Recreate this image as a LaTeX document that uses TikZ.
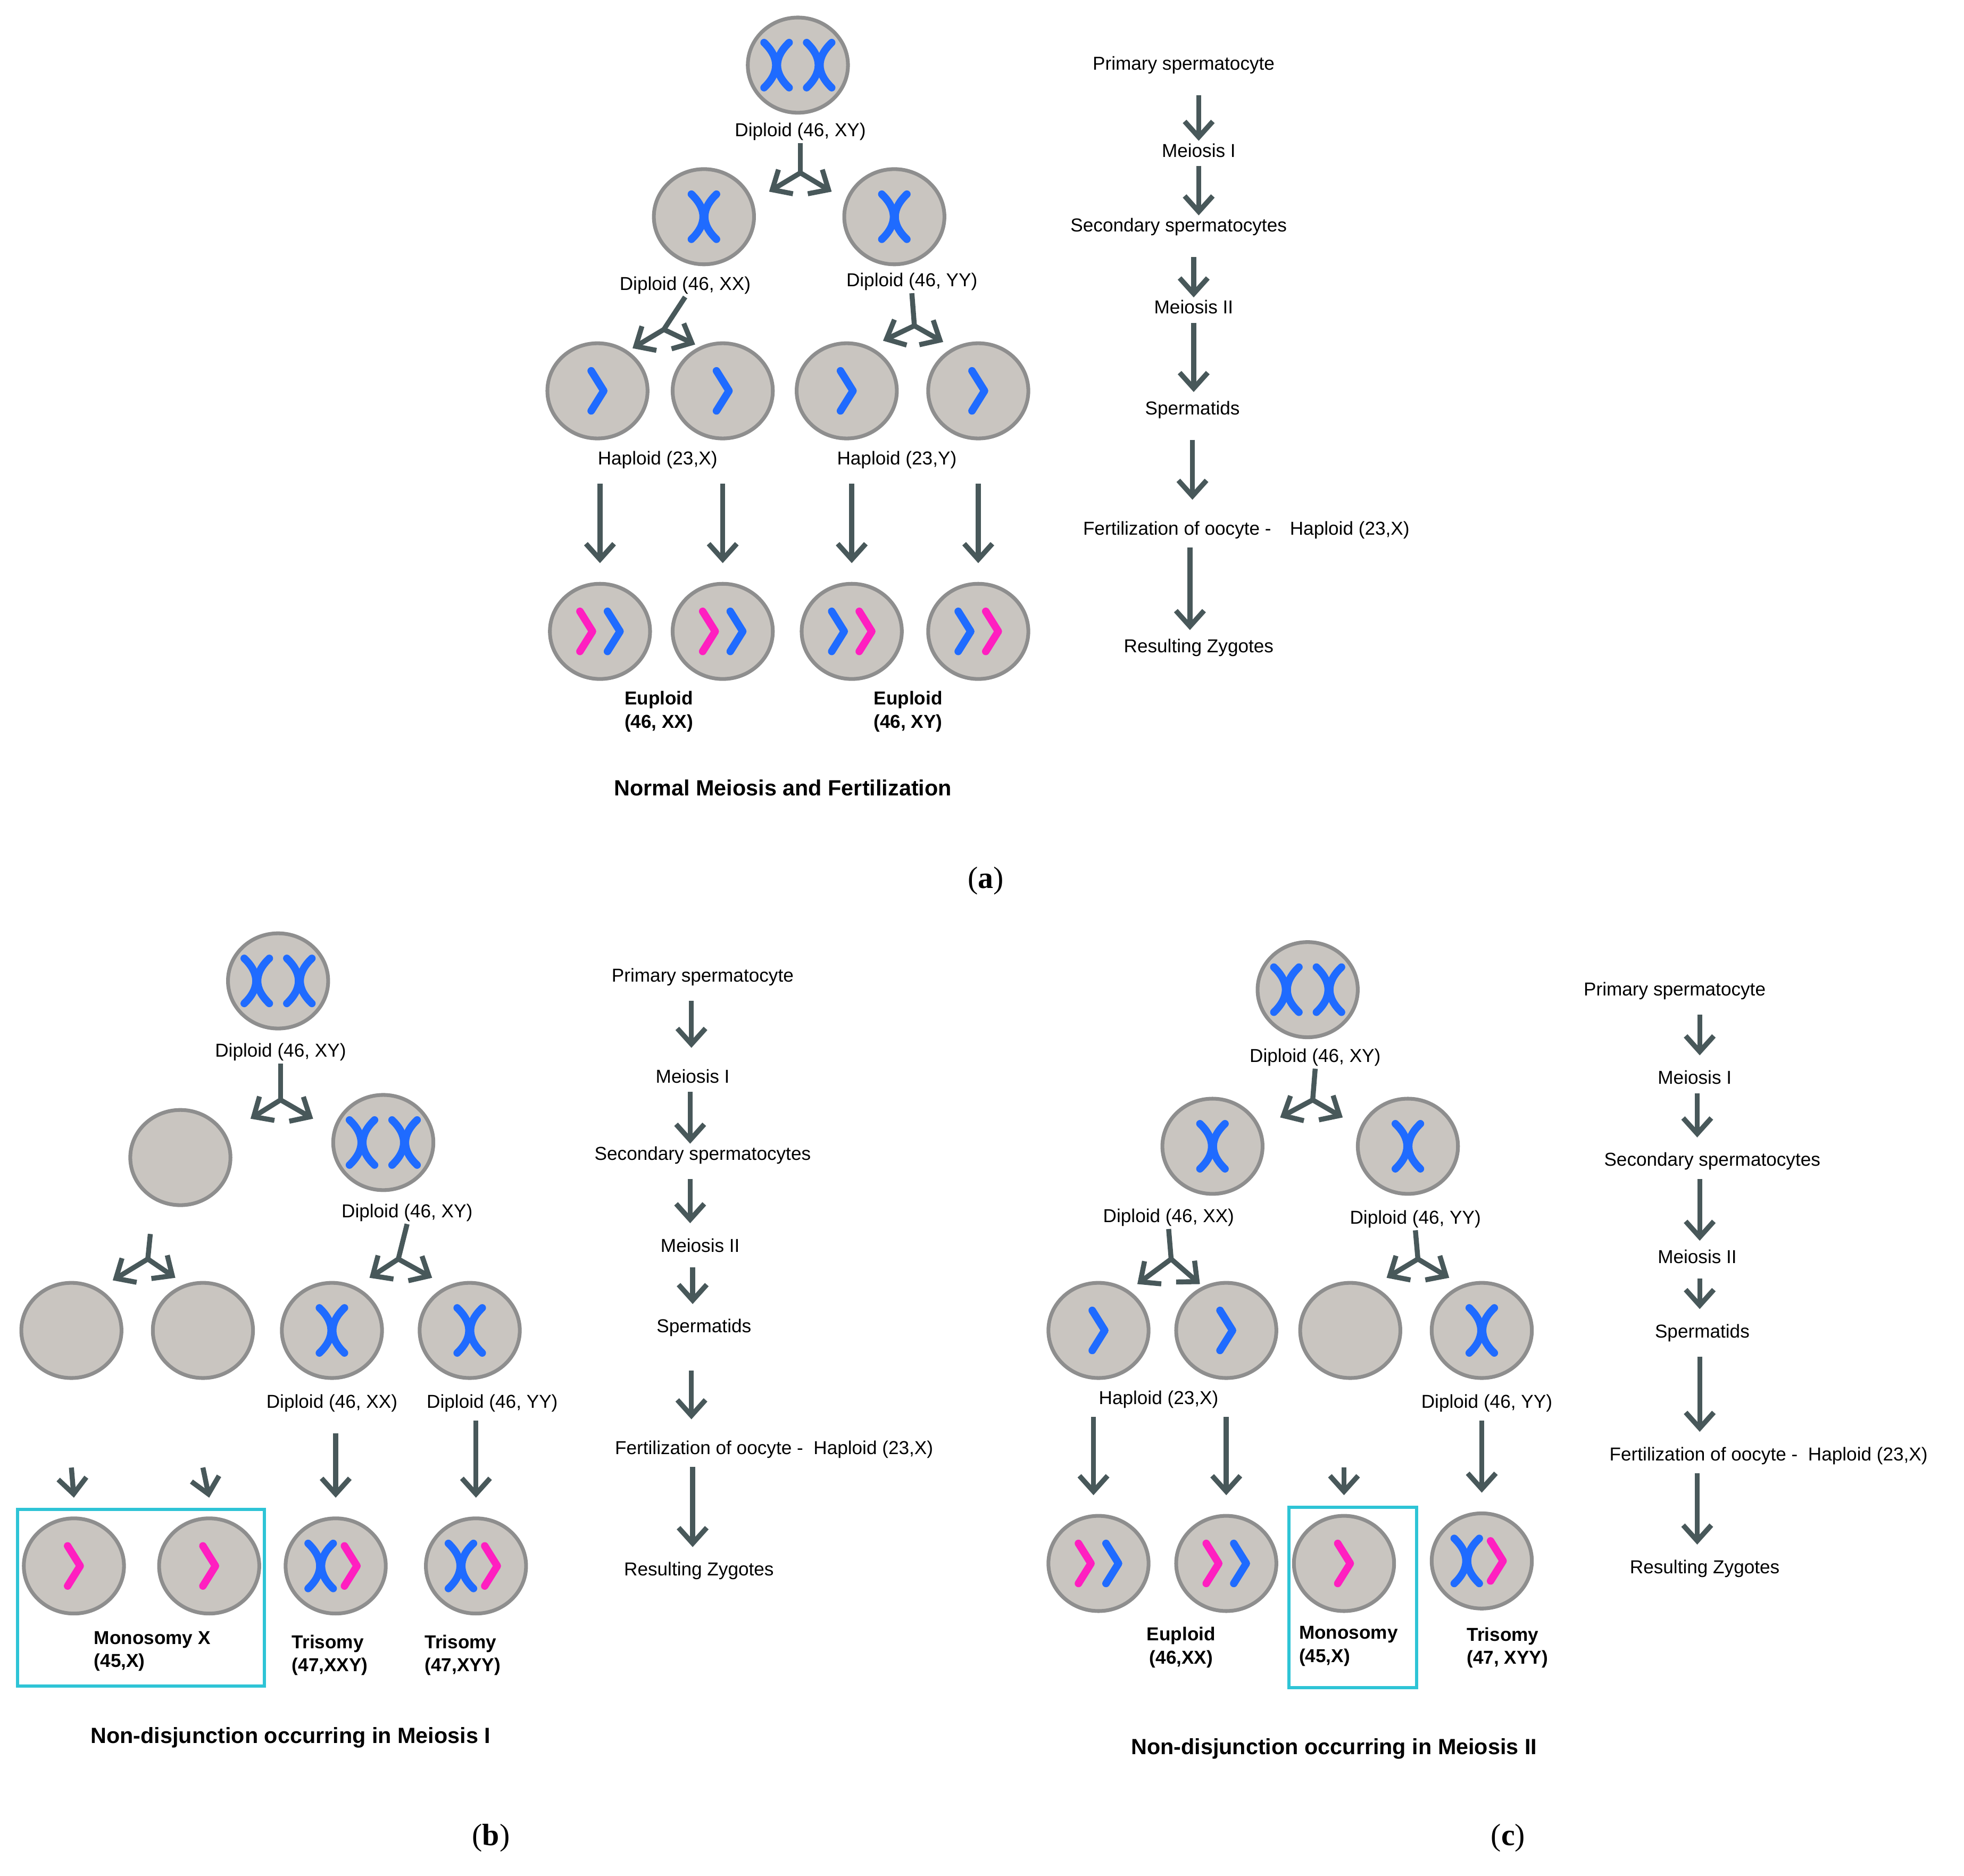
\documentclass[tikz,border=0pt]{standalone}
\usepackage{fontspec}
\setmainfont{Liberation Sans}
\newfontfamily\capfont{Liberation Serif}
\usetikzlibrary{arrows.meta,shapes.geometric,positioning,calc}
\definecolor{cellfill}{HTML}{C9C5C0}
\definecolor{celledge}{HTML}{8E8E8E}
\definecolor{arrgray}{HTML}{48585A}
\definecolor{chrblue}{HTML}{1F6BFF}
\definecolor{chrpink}{HTML}{FF1FC0}
\definecolor{boxcyan}{HTML}{2EC4D6}
\tikzset{
	cell/.style={
		ellipse,
		fill=cellfill,
		draw=celledge, line width=0.06cm,
		minimum width=1.6cm,
		minimum height=1.52cm,
	},
	lbl/.style={font=\fontsize{8.5}{10}\selectfont, inner sep=1pt},
	res/.style={font=\fontsize{8.5}{10.5}\selectfont\bfseries, inner sep=1pt, align=left},
	title/.style={font=\fontsize{10}{12}\selectfont\bfseries},
	arr/.style={draw=arrgray, line width=0.08cm, -{Straight Barb[length=0.25cm,width=0.45cm,line width=0.08cm]}},
	stem/.style={draw=arrgray, line width=0.08cm},
	blu/.style={draw=chrblue, line width=0.12cm, line cap=round, line join=round},
	pnk/.style={draw=chrpink, line width=0.12cm, line cap=round, line join=round},
	xchr/.pic={
		\draw[pic actions] (-0.2cm,0.36cm) .. controls (0.05cm,0.12cm) and (0.05cm,-0.12cm) .. (-0.2cm,-0.36cm);
		\draw[pic actions] (0.2cm,0.36cm) .. controls (-0.05cm,0.12cm) and (-0.05cm,-0.12cm) .. (0.2cm,-0.36cm);
	},
	chev/.pic={
		\draw[pic actions] (-0.1cm,0.32cm) -- (0.1cm,0cm) -- (-0.1cm,-0.32cm);
	},
}

\begin{document}
\begin{tikzpicture}[x=0.02cm, y=-0.02cm]
\useasboundingbox (0,0) rectangle (1568,1497.5);

%%% (a) normal meiosis
\node (a1)	[cell] at (637,52) {};
\pic[blu] at ([xshift=-0.34cm]a1) {xchr};
\pic[blu] at ([xshift=0.34cm]a1) {xchr};
\node (la1)	[lbl] at (639,105) {Diploid (46, XY)};
\node (a21)	[cell] at (562,173) {};
\node (a22)	[cell] at (714,173) {};
\pic[blu] at (a21) {xchr};
\pic[blu] at (a22) {xchr};
\node (la21)	[lbl] at (547,228) {Diploid (46, XX)};
\node (la22)	[lbl] at (728,225) {Diploid (46, YY)};
\foreach \i/\x in {1/477,2/577,3/676,4/781}{
	\node (a3\i) [cell] at (\x,312) {};
	\pic[blu] at (a3\i) {chev};
}
\node (la31)	[lbl] at (525,367) {Haploid (23,X)};
\node (la32)	[lbl] at (716,367) {Haploid (23,Y)};
\foreach \i/\x in {1/479,2/577,3/680,4/781}{
	\node (a4\i) [cell] at (\x,504) {};
}
\pic[pnk] at ([xshift=-0.22cm]a41) {chev};
\pic[blu] at ([xshift=0.22cm]a41) {chev};
\pic[pnk] at ([xshift=-0.22cm]a42) {chev};
\pic[blu] at ([xshift=0.22cm]a42) {chev};
\pic[blu] at ([xshift=-0.22cm]a43) {chev};
\pic[pnk] at ([xshift=0.22cm]a43) {chev};
\pic[blu] at ([xshift=-0.22cm]a44) {chev};
\pic[pnk] at ([xshift=0.22cm]a44) {chev};
\node (ra1)	[res, align=center] at (526,568) {Euploid\\(46, XX)};
\node (ra2)	[res, align=center] at (725,568) {Euploid\\(46, XY)};
\node (ta)	[title] at (625,629) {Normal Meiosis and Fertilization};
\node (capa)	[font=\capfont\fontsize{14}{16}\selectfont] at (787,703) {(\textbf{a})};

% split arrows
\coordinate (sa1) at (639,138);
\draw[stem] (la1.south) -- (sa1);
\draw[arr] (sa1) -- ++(-25,15);
\draw[arr] (sa1) -- ++(25,15);
\coordinate (sa21) at (530,263);
\draw[stem] (la21.south) -- (sa21);
\draw[arr] (sa21) -- ++(-25,15);
\draw[arr] (sa21) -- ++(25,12);
\coordinate (sa22) at (730,260);
\draw[stem] (la22.south) -- (sa22);
\draw[arr] (sa22) -- ++(-25,12);
\draw[arr] (sa22) -- ++(23,13);
% down arrows
\foreach \i in {1,2}{
	\draw[arr] ([yshift=-0.2cm]a4\i.north |- la31.south) -- ([yshift=0.3cm]a4\i.north);
}
\foreach \i in {3,4}{
	\draw[arr] ([yshift=-0.2cm]a4\i.north |- la32.south) -- ([yshift=0.3cm]a4\i.north);
}

% stages
\node (fa1)	[lbl] at (945,52) {Primary spermatocyte};
\node (fa2)	[lbl] at (957,120) {Meiosis I};
\node (fa3)	[lbl] at (941,181) {Secondary spermatocytes};
\node (fa4)	[lbl] at (953,245) {Meiosis II};
\node (fa5)	[lbl] at (952,327) {Spermatids};
\node (fa6)	[lbl] at (995,423) {Fertilization of oocyte -\quad Haploid (23,X)};
\node (fa7)	[lbl] at (957,517) {Resulting Zygotes};
\draw[arr, shorten <=0.3cm] (fa1.south -| fa2) -- (fa2.north);
\draw[arr, shorten <=0.1cm] (fa2.south) -- (fa3.north -| fa2);
\draw[arr, shorten <=0.3cm] (fa3.south -| fa4) -- (fa4.north);
\draw[arr, shorten <=0.1cm, shorten >=0.1cm] (fa4.south) -- (fa5.north -| fa4);
\draw[arr, shorten <=0.3cm, shorten >=0.3cm] (fa5.south) -- (fa6.north -| fa5);
\draw[arr, shorten <=0.1cm, shorten >=0.1cm] (fa6.south -| 950,0) -- (fa7.north -| 950,0);

%%% (b) non-disjunction in meiosis I
\node (b1)	[cell] at (222,783) {};
\pic[blu] at ([xshift=-0.34cm]b1) {xchr};
\pic[blu] at ([xshift=0.34cm]b1) {xchr};
\node (lb1)	[lbl] at (224,840) {Diploid (46, XY)};
\node (b21)	[cell] at (144,924) {};
\node (b22)	[cell] at (306,912) {};
\pic[blu] at ([xshift=-0.34cm]b22) {xchr};
\pic[blu] at ([xshift=0.34cm]b22) {xchr};
\node (lb22)	[lbl] at (325,968) {Diploid (46, XY)};
\node (b31)	[cell] at (57,1062) {};
\node (b32)	[cell] at (162,1062) {};
\node (b33)	[cell] at (265,1062) {};
\node (b34)	[cell] at (375,1062) {};
\pic[blu] at (b33) {xchr};
\pic[blu] at (b34) {xchr};
\node (lb33)	[lbl] at (265,1120) {Diploid (46, XX)};
\node (lb34)	[lbl] at (393,1120) {Diploid (46, YY)};
\node (b41)	[cell] at (59,1250) {};
\node (b42)	[cell] at (167,1250) {};
\node (b43)	[cell] at (268,1250) {};
\node (b44)	[cell] at (380,1250) {};
\pic[pnk] at (b41) {chev};
\pic[pnk] at (b42) {chev};
\pic[blu] at ([xshift=-0.24cm]b43) {xchr};
\pic[pnk] at ([xshift=0.24cm]b43) {chev};
\pic[blu] at ([xshift=-0.24cm]b44) {xchr};
\pic[pnk] at ([xshift=0.24cm]b44) {chev};
\node (boxb)	[draw=boxcyan, line width=0.05cm, minimum width=3.94cm, minimum height=2.82cm] at (112.5,1275.5) {};
\node (rb1)	[res, anchor=north west] at (73,1300) {Monosomy X\\(45,X)};
\node (rb2)	[res, anchor=north west] at (231,1303) {Trisomy\\(47,XXY)};
\node (rb3)	[res, anchor=north west] at (337,1303) {Trisomy\\(47,XYY)};
\node (tb)	[title] at (232,1387) {Non-disjunction occurring in Meiosis I};
\node (capb)	[font=\capfont\fontsize{14}{16}\selectfont] at (392,1467) {(\textbf{b})};

\coordinate (sb1) at (224,878);
\draw[stem] (lb1.south) -- (sb1);
\draw[arr] (sb1) -- ++(-24,15);
\draw[arr] (sb1) -- ++(26,15);
\coordinate (sb21) at (118,1005);
\draw[stem] (120,985) -- (sb21);
\draw[arr] (sb21) -- ++(-28,17);
\draw[arr] (sb21) -- ++(22,15);
\coordinate (sb22) at (318,1005);
\draw[stem] (lb22.south) -- (sb22);
\draw[arr] (sb22) -- ++(-23,15);
\draw[arr] (sb22) -- ++(27,15);
\draw[arr] ([yshift=-1.4cm]b31.south) -- ([yshift=0.3cm]b41.north);
\draw[arr] ([yshift=-1.4cm]b32.south) -- ([yshift=0.3cm]b42.north);
\draw[arr, shorten <=0.3cm] (lb33.south -| b43) -- ([yshift=0.3cm]b43.north);
\draw[arr, shorten <=0.1cm] (lb34.south -| b44) -- ([yshift=0.3cm]b44.north);

\node (fb1)	[lbl] at (561,780) {Primary spermatocyte};
\node (fb2)	[lbl] at (553,859) {Meiosis I};
\node (fb3)	[lbl] at (561,922) {Secondary spermatocytes};
\node (fb4)	[lbl] at (559,994) {Meiosis II};
\node (fb5)	[lbl] at (562,1060) {Spermatids};
\node (fb6)	[lbl] at (618,1157) {Fertilization of oocyte -\; Haploid (23,X)};
\node (fb7)	[lbl] at (558,1254) {Resulting Zygotes};
\draw[arr, shorten <=0.2cm, shorten >=0.3cm] (fb1.south -| 552,0) -- (fb2.north -| 552,0);
\draw[arr, shorten <=0.1cm] (fb2.south -| 551,0) -- (fb3.north -| 551,0);
\draw[arr, shorten <=0.2cm, shorten >=0.2cm] (fb3.south -| 551,0) -- (fb4.north -| 551,0);
\draw[arr, shorten <=0.2cm, shorten >=0.2cm] (fb4.south -| 553,0) -- (fb5.north -| 553,0);
\draw[arr, shorten <=0.5cm, shorten >=0.3cm] (fb5.south -| 552,0) -- (fb6.north -| 552,0);
\draw[arr, shorten <=0.1cm, shorten >=0.2cm] (fb6.south -| 553,0) -- (fb7.north -| 553,0);

%%% (c) non-disjunction in meiosis II
\node (c1)	[cell] at (1044,790) {};
\pic[blu] at ([xshift=-0.34cm]c1) {xchr};
\pic[blu] at ([xshift=0.34cm]c1) {xchr};
\node (lc1)	[lbl] at (1050,844) {Diploid (46, XY)};
\node (c21)	[cell] at (968,915) {};
\node (c22)	[cell] at (1124,915) {};
\pic[blu] at (c21) {xchr};
\pic[blu] at (c22) {xchr};
\node (lc21)	[lbl] at (933,972) {Diploid (46, XX)};
\node (lc22)	[lbl] at (1130,973) {Diploid (46, YY)};
\node (c31)	[cell] at (877,1062) {};
\node (c32)	[cell] at (979,1062) {};
\node (c33)	[cell] at (1078,1062) {};
\node (c34)	[cell] at (1183,1062) {};
\pic[blu] at (c31) {chev};
\pic[blu] at (c32) {chev};
\pic[blu] at (c34) {xchr};
\node (lc31)	[lbl] at (925,1117) {Haploid (23,X)};
\node (lc34)	[lbl] at (1187,1120) {Diploid (46, YY)};
\node (c41)	[cell] at (877,1248) {};
\node (c42)	[cell] at (979,1248) {};
\node (c43)	[cell] at (1073,1248) {};
\node (c44)	[cell] at (1183,1246) {};
\pic[pnk] at ([xshift=-0.22cm]c41) {chev};
\pic[blu] at ([xshift=0.22cm]c41) {chev};
\pic[pnk] at ([xshift=-0.22cm]c42) {chev};
\pic[blu] at ([xshift=0.22cm]c42) {chev};
\pic[pnk] at (c43) {chev};
\pic[blu] at ([xshift=-0.24cm]c44) {xchr};
\pic[pnk] at ([xshift=0.24cm]c44) {chev};
\node (boxc)	[draw=boxcyan, line width=0.05cm, minimum width=2.04cm, minimum height=2.88cm] at (1080,1275) {};
\node (rc1)	[res, align=center] at (943,1315) {Euploid\\(46,XX)};
\node (rc2)	[res, anchor=north west] at (1035,1296) {Monosomy\\(45,X)};
\node (rc3)	[res, anchor=north west] at (1169,1297) {Trisomy\\(47, XYY)};
\node (tc)	[title] at (1065,1396) {Non-disjunction occurring in Meiosis II};
\node (capc)	[font=\capfont\fontsize{14}{16}\selectfont] at (1204,1467) {(\textbf{c})};

\coordinate (sc1) at (1048,878);
\draw[stem] (lc1.south) -- (sc1);
\draw[arr] (sc1) -- ++(-26,14);
\draw[arr] (sc1) -- ++(24,14);
\coordinate (sc21) at (935,1005);
\draw[stem] (lc21.south) -- (sc21);
\draw[arr] (sc21) -- ++(-27,20);
\draw[arr] (sc21) -- ++(23,20);
\coordinate (sc22) at (1132,1005);
\draw[stem] (lc22.south) -- (sc22);
\draw[arr] (sc22) -- ++(-25,15);
\draw[arr] (sc22) -- ++(25,15);
\draw[arr, shorten <=0.1cm] (lc31.south -| 873,0) -- ([yshift=0.3cm]c41.north -| 873,0);
\draw[arr, shorten <=0.1cm] (lc31.south -| c42) -- ([yshift=0.3cm]c42.north);
\draw[arr] ([yshift=-1.4cm]c33.south -| c43) -- ([yshift=0.3cm]c43.north);
\draw[arr, shorten <=0.1cm] (lc34.south -| c44) -- ([yshift=0.3cm]c44.north);

\node (fc1)	[lbl] at (1337,791) {Primary spermatocyte};
\node (fc2)	[lbl] at (1353,860) {Meiosis I};
\node (fc3)	[lbl] at (1367,927) {Secondary spermatocytes};
\node (fc4)	[lbl] at (1355,1003) {Meiosis II};
\node (fc5)	[lbl] at (1359,1064) {Spermatids};
\node (fc6)	[lbl] at (1412,1162) {Fertilization of oocyte -\; Haploid (23,X)};
\node (fc7)	[lbl] at (1361,1252) {Resulting Zygotes};
\draw[arr, shorten <=0.2cm, shorten >=0.2cm] (fc1.south -| 1357,0) -- (fc2.north -| 1357,0);
\draw[arr, shorten <=0.1cm, shorten >=0.2cm] (fc2.south -| 1355,0) -- (fc3.north -| 1355,0);
\draw[arr, shorten <=0.1cm, shorten >=0.1cm] (fc3.south -| 1357,0) -- (fc4.north -| 1357,0);
\draw[arr, shorten <=0.2cm, shorten >=0.2cm] (fc4.south -| 1357,0) -- (fc5.north -| 1357,0);
\draw[arr, shorten <=0.2cm, shorten >=0.2cm] (fc5.south -| 1357,0) -- (fc6.north -| 1357,0);
\draw[arr, shorten <=0.1cm, shorten >=0.2cm] (fc6.south -| 1355,0) -- (fc7.north -| 1355,0);

\end{tikzpicture}
\end{document}
